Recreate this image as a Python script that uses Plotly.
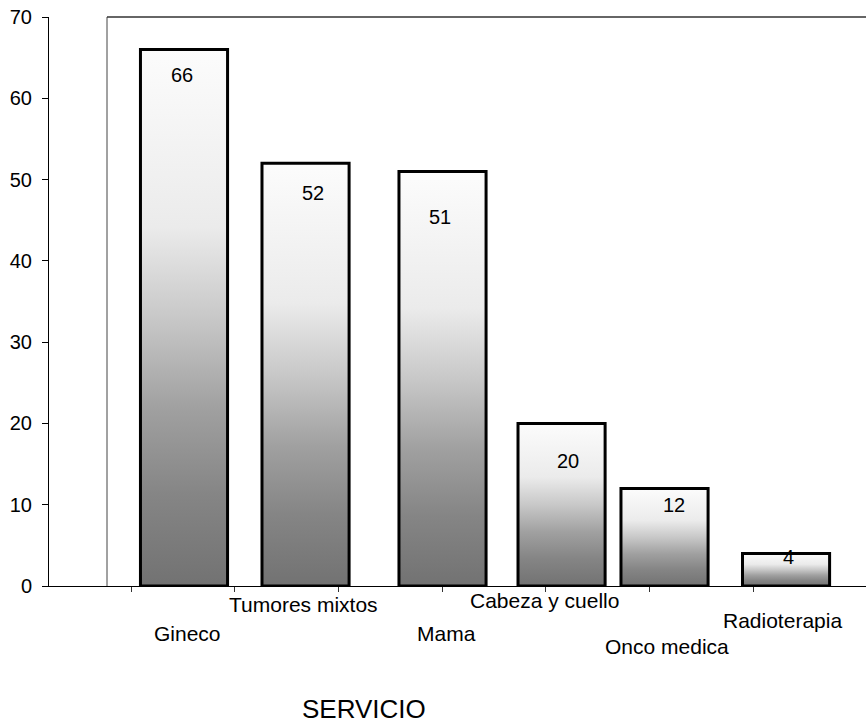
import plotly.graph_objects as go

# Patients per oncology service
servicios = ["Gineco", "Tumores mixtos", "Mama", "Cabeza y cuello", "Onco medica", "Radioterapia"]
pacientes = [66, 52, 51, 20, 12, 4]
y_ticks = [0, 10, 20, 30, 40, 50, 60, 70]
axis_title = "SERVICIO"

# --- layout helpers (positions in category units) ---
bar_width = 0.84
bar_shift = [0.011, 0.183, 0.504, 0.652, 0.645, 0.817]      # horizontal placement of each bar
name_shift = [0.045, 0.163, 0.543, 0.483, 0.669, 0.783]     # horizontal placement of each service name
name_y = [-0.084, -0.033, -0.084, -0.025, -0.107, -0.060]   # vertical placement of names (paper units)
value_shift = [-0.008, 0.255, 0.480, 0.715, 0.737, 0.836]   # horizontal placement of value labels
value_drop = [25, 30, 46, 38, 17, 4]                         # px below bar top for value labels

gradient = [[0.0, "#727272"], [0.17, "#858585"], [0.33, "#a0a0a0"],
            [0.5, "#c8c8c8"], [0.67, "#ebebeb"], [1.0, "#fcfcfc"]]

fig = go.Figure()

for i, (name, val) in enumerate(zip(servicios, pacientes)):
    c = i + bar_shift[i]
    x0, x1 = c - bar_width / 2, c + bar_width / 2
    # gradient-filled body of the bar
    fig.add_trace(go.Scatter(
        x=[x0, x1, x1, x0, x0], y=[0, 0, val, val, 0],
        mode="lines", fill="toself",
        fillgradient=dict(type="vertical", colorscale=gradient),
        line=dict(color="black", width=3),
        name=name, showlegend=False, hoverinfo="skip",
    ))

# bar values as hover targets
fig.add_trace(go.Bar(
    x=list(range(len(servicios))), y=pacientes,
    width=bar_width, offset=[s - bar_width / 2 for s in bar_shift],
    marker=dict(color="rgba(0,0,0,0)", line=dict(width=0)),
    customdata=servicios, hovertemplate="%{customdata}: %{y}<extra></extra>",
    showlegend=False,
))

annotations = []
for i, val in enumerate(pacientes):
    annotations.append(dict(
        x=i + value_shift[i], y=val, xref="x", yref="y",
        text=str(val), showarrow=False, yanchor="middle",
        yshift=-value_drop[i], font=dict(size=20, color="black"),
    ))
for i, name in enumerate(servicios):
    annotations.append(dict(
        x=i + name_shift[i], y=name_y[i], xref="x", yref="paper",
        text=name, showarrow=False, yanchor="middle",
        font=dict(size=21, color="black"),
    ))
# axis title below the category names
annotations.append(dict(
    x=(364 - 49) / 817, y=(586 - 709) / 569, xref="paper", yref="paper",
    text=axis_title, showarrow=False, xanchor="center", yanchor="middle",
    borderpad=0, font=dict(size=26, color="black"),
))

fig.update_layout(
    width=866, height=725,
    margin=dict(l=49, r=0, t=17, b=139),
    paper_bgcolor="white", plot_bgcolor="white",
    font=dict(family="Liberation Sans, Arial, sans-serif", color="black"),
    showlegend=False,
    annotations=annotations,
    xaxis=dict(
        range=[-1.291, 6.588], showgrid=False, zeroline=False,
        showline=True, linecolor="black", linewidth=1,
        tickmode="array", tickvals=[k - 0.5 for k in range(len(servicios) + 1)],
        showticklabels=False, ticks="outside", ticklen=5, tickcolor="#333333",
        fixedrange=True,
    ),
    yaxis=dict(
        range=[0, 70], showgrid=False, zeroline=False,
        showline=True, linecolor="black", linewidth=1,
        tickmode="array", tickvals=y_ticks,
        ticks="outside", ticklen=6, tickcolor="black",
        tickfont=dict(size=20, color="black"), ticklabelstandoff=6,
        fixedrange=True,
    ),
    shapes=[
        dict(type="line", xref="paper", yref="paper", x0=0.071, x1=0.071, y0=0, y1=1,
             line=dict(color="#444444", width=1)),
        dict(type="line", xref="paper", yref="paper", x0=0.071, x1=1, y0=1, y1=1,
             line=dict(color="#333333", width=1.5)),
    ],
)

fig.write_html("out.html")
